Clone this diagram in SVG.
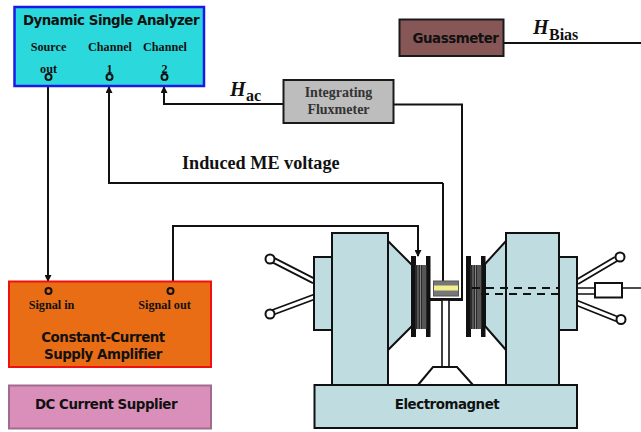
<svg xmlns="http://www.w3.org/2000/svg" width="641" height="432" viewBox="0 0 641 432">
<style>
.s{font-family:"DejaVu Sans",Verdana,sans-serif;font-weight:700;fill:#111;font-size:13.400px;letter-spacing:-.47px}
.t{font-family:"Liberation Serif","Times New Roman",serif;font-weight:700;fill:#111}
.sm{font-size:12.200px}
.sub{font-size:16px}
.H{font-size:20px;font-style:italic}
.w{fill:none;stroke:#111;stroke-width:2}
.p{fill:none;stroke:#111;stroke-width:2}
.m{fill:#bfdde0;stroke:#111;stroke-width:2}
.k{fill:#111}
.r{fill:#fff;stroke:#111;stroke-width:2}
</style>
<defs>
<marker id="a" markerWidth="7" markerHeight="7" refX="6" refY="3.500" orient="auto" markerUnits="userSpaceOnUse"><path d="M0 0L7 3.500L0 7Z" fill="#111"/></marker>
<g id="coil">
<rect x="0" y="0" width="5" height="81" class="k"/>
<rect x="15" y="0" width="4.500" height="81" class="k"/>
<rect x="4" y="9" width="12" height="64" fill="#2a2a2a"/>
<path d="M7 9V73M9.500 9V73M12 9V73M14 9V73" stroke="#9a9a9a" stroke-width=".8"/>
</g>
</defs>

<g id="connectors">
<path class="w" d="M48 87V281" marker-end="url(#a)"/>
<path class="w" d="M443 183H109V87" marker-end="url(#a)"/>
<path class="w" d="M283 104H164V87" marker-end="url(#a)"/>
<path class="w" d="M394 104.500H462V300"/>
<path class="w" d="M443 183V281"/>
<path class="w" d="M173 281V226H418V256" marker-end="url(#a)"/>
<path class="w" d="M504 43H641"/>
</g>

<g id="analyzer">
<rect x="14.500" y="7" width="189.500" height="79" fill="#2bd9dc" stroke="#1a1ae6" stroke-width="2.500"/>
<text class="s" x="111" y="24.500" text-anchor="middle">Dynamic Single Analyzer</text>
<text class="t sm" x="48.500" y="51" text-anchor="middle">Source</text>
<text class="t sm" x="110" y="51" text-anchor="middle">Channel</text>
<text class="t sm" x="165" y="51" text-anchor="middle">Channel</text>
<text class="t sm" x="48.500" y="73" text-anchor="middle">out</text>
<text class="t sm" x="109.500" y="73" text-anchor="middle">1</text>
<text class="t sm" x="164.500" y="73" text-anchor="middle">2</text>
<circle class="p" cx="48.500" cy="77" r="3"/>
<circle class="p" cx="109.500" cy="77" r="3"/>
<circle class="p" cx="164.500" cy="77" r="3"/>
</g>

<g id="guassmeter">
<rect x="399.500" y="19.500" width="104" height="36.500" fill="#875757" stroke="#1a1a1a" stroke-width="2"/>
<text class="s" x="455.500" y="42.500" text-anchor="middle">Guassmeter</text>
</g>
<text class="t H" x="533" y="34">H</text><text class="t sub" x="549" y="39.500">Bias</text>

<g id="fluxmeter">
<rect x="283.500" y="80" width="110" height="43" fill="#bdbdbd" stroke="#1a1a1a" stroke-width="2"/>
<text class="t" x="338.500" y="97" text-anchor="middle" font-size="14" style="fill:#333">Integrating</text>
<text class="t" x="338.500" y="114" text-anchor="middle" font-size="14" style="fill:#333">Fluxmeter</text>
</g>
<text class="t H" x="230" y="96">H</text><text class="t sub" x="246" y="101">ac</text>
<text class="t" x="182" y="169" font-size="18.200">Induced ME voltage</text>

<g id="amplifier">
<rect x="9" y="281.500" width="202" height="85.500" fill="#e86d14" stroke="#f01010" stroke-width="2"/>
<circle class="p" cx="48.500" cy="291" r="3"/>
<circle class="p" cx="170.500" cy="291" r="3"/>
<text class="t sm" x="51.500" y="309" text-anchor="middle">Signal in</text>
<text class="t sm" x="164.500" y="309" text-anchor="middle">Signal out</text>
<text class="s" x="103" y="342" text-anchor="middle">Constant-Current</text>
<text class="s" x="103" y="359" text-anchor="middle">Supply Amplifier</text>
</g>

<g id="dc-supplier">
<rect x="9" y="385.500" width="202" height="43" fill="#d98fba" stroke="#a06b8c" stroke-width="2"/>
<text class="s" x="106" y="409" text-anchor="middle">DC Current Supplier</text>
</g>

<g id="electromagnet">
<path d="M577 282L616 259M577 303L617 319" stroke="#111" stroke-width="6.500" fill="none"/>
<path d="M577 282L616 259M577 303L617 319" stroke="#fff" stroke-width="3" fill="none"/>
<path d="M314 281L271 259M314 297L271 313" stroke="#111" stroke-width="6.500" fill="none"/>
<path d="M314 281L271 259M314 297L271 313" stroke="#fff" stroke-width="3" fill="none"/>
<circle class="r" cx="270" cy="259" r="4.500"/>
<circle class="r" cx="270" cy="314" r="4.500"/>
<circle class="r" cx="620" cy="257" r="4.500"/>
<circle class="r" cx="621" cy="319.500" r="4.500"/>
<path d="M577 288H595M577 294H595" stroke="#111" stroke-width="1.500"/>
<rect x="595" y="283" width="27" height="14.500" fill="#fff" stroke="#111" stroke-width="2"/>
<path d="M622 288H641" stroke="#111" stroke-width="1.500"/>
<rect class="m" x="314" y="257" width="18" height="73"/>
<rect class="m" x="559" y="257" width="18" height="73"/>
<path class="m" d="M388 241L412 265V326L388 350Z"/>
<path class="m" d="M506 241L485 264V326L506 350Z"/>
<rect class="m" x="332" y="233" width="56" height="152"/>
<rect class="m" x="506" y="233" width="53" height="152"/>
<use href="#coil" x="411" y="256"/>
<use href="#coil" x="466" y="256"/>
<path d="M472 288H558M481 294H558" stroke="#111" stroke-width="2" stroke-dasharray="8 6" fill="none"/>
<path d="M430 299.500H463" stroke="#111" stroke-width="3"/>
<rect x="442" y="300" width="7" height="67" fill="#fff" stroke="#111" stroke-width="1.600"/>
<rect x="433.500" y="281" width="25" height="15" fill="#777" stroke="#555" stroke-width="1"/>
<rect x="434" y="285.500" width="24" height="5" fill="#f3ef8f"/>
<path class="m" d="M418 385L433 367H457L473 385" style="fill:#fff"/>
<rect class="m" x="314.500" y="385" width="262.500" height="43"/>
<text class="s" x="447" y="409" text-anchor="middle">Electromagnet</text>
</g>
</svg>
